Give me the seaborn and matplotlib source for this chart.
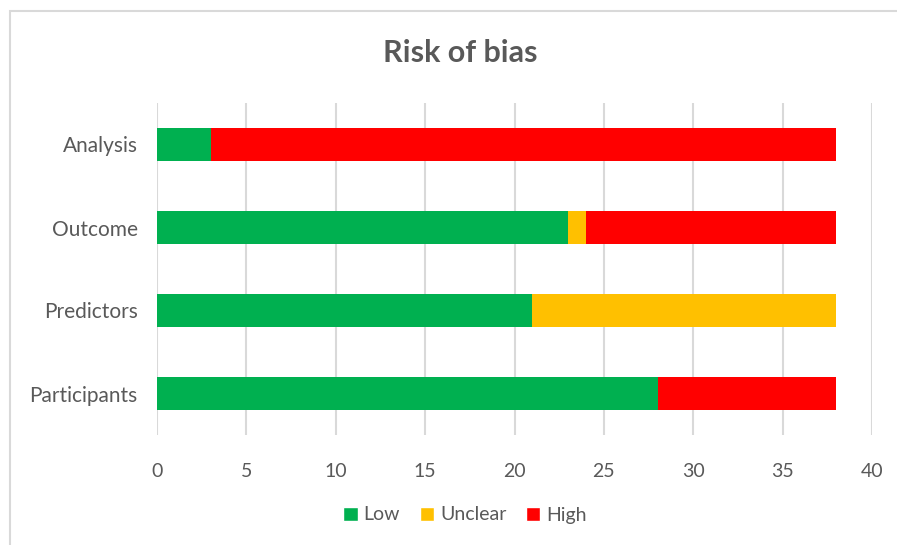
import matplotlib
matplotlib.use("Agg")
import matplotlib.pyplot as plt
from matplotlib.patches import Rectangle, Patch
import seaborn as sns

# Datos del grafico
dominios = ["Analysis", "Outcome", "Predictors", "Participants"]
low = [3, 23, 21, 28]
unclear = [0, 1, 17, 0]
high = [35, 14, 0, 10]

colores = {"Low": "#00B050", "Unclear": "#FFC000", "High": "#FF0000"}
gris = "#595959"

sns.set_theme(style="white")
plt.rcParams["font.family"] = ["Lato", "DejaVu Sans"]

fig = plt.figure(figsize=(8.97, 5.45), dpi=100)
ax = fig.add_axes([157 / 897, 1 - 435 / 545, 715 / 897, 332 / 545])

# borde del grafico
fig.patches.append(Rectangle((10 / 897, -0.1), 1.2, 1 - 11 / 545 + 0.1,
                             transform=fig.transFigure, fill=False,
                             edgecolor="#D9D9D9", linewidth=1.5))

# barras apiladas: se dibujan los acumulados de atras hacia adelante
total = [l + u + h for l, u, h in zip(low, unclear, high)]
low_unclear = [l + u for l, u in zip(low, unclear)]
sns.barplot(x=total, y=dominios, color=colores["High"], width=0.4,
            orient="h", saturation=1, linewidth=0, ax=ax, zorder=3)
sns.barplot(x=low_unclear, y=dominios, color=colores["Unclear"], width=0.4,
            orient="h", saturation=1, linewidth=0, ax=ax, zorder=3)
sns.barplot(x=low, y=dominios, color=colores["Low"], width=0.4,
            orient="h", saturation=1, linewidth=0, ax=ax, zorder=3)

ax.set_xlim(0, 40)
ax.set_ylim(3.5, -0.5)
ax.set_xticks(range(0, 41, 5))
ax.xaxis.grid(True, color="#D9D9D9", linewidth=1.5, zorder=0)
ax.set_axisbelow(True)
ax.set_xlabel("")
ax.set_ylabel("")
sns.despine(ax=ax, left=True, bottom=True)
ax.tick_params(axis="x", length=0, pad=20, labelsize=14, labelcolor=gris)
ax.tick_params(axis="y", length=0, pad=14, labelsize=15, labelcolor=gris)

fig.text(460 / 897, 1 - 53 / 545, "Risk of bias", ha="center", va="center",
         fontsize=22, fontweight="bold", color=gris)

handles = [Patch(facecolor=c, label=k) for k, c in colores.items()]
fig.legend(handles=handles, loc="center", bbox_to_anchor=(465 / 897, 1 - 515 / 545),
           ncol=3, frameon=False, fontsize=14, labelcolor=gris,
           handlelength=0.75, handleheight=0.75, handletextpad=0.3, columnspacing=1.0)

fig.savefig("out.png", dpi=100)
